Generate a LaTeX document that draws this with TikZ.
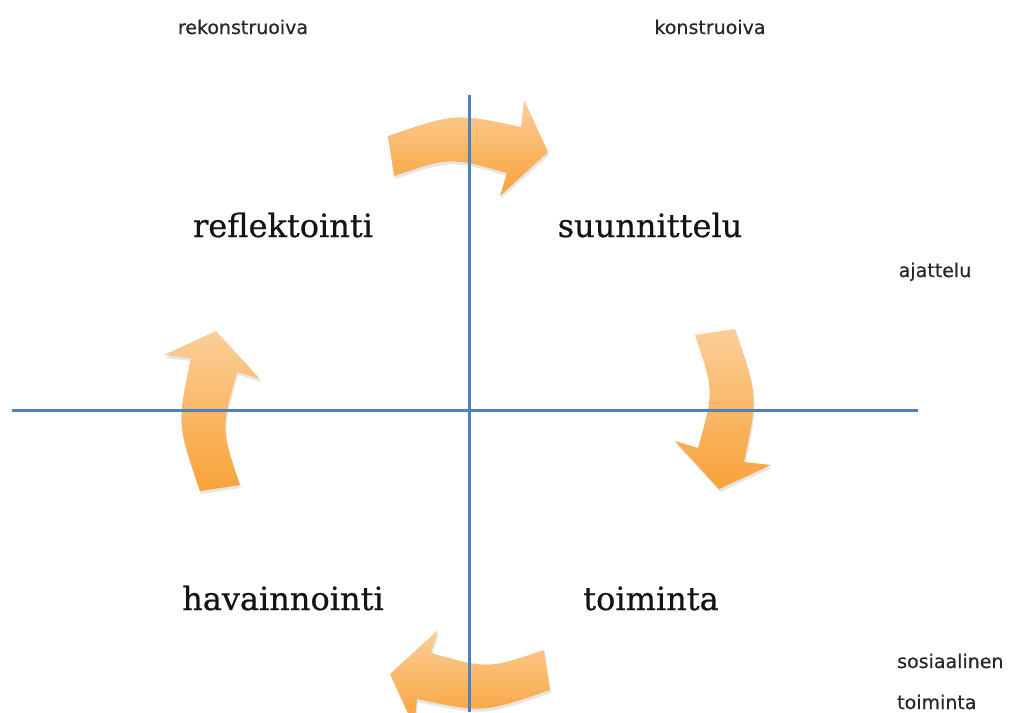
\documentclass[tikz,border=0pt]{standalone}
\usepackage{fontspec}
\setmainfont{DejaVu Serif}[FakeBold=0.6]
\newfontfamily\smallsans{DejaVu Sans}[FakeBold=0.5]
\definecolor{axisblue}{RGB}{79,129,189}
\definecolor{arrowlight}{RGB}{252,206,152}
\definecolor{arrowdark}{RGB}{248,162,56}
\definecolor{phasetext}{RGB}{20,20,20}
\definecolor{sidetext}{RGB}{40,40,40}

\tikzset{
  phase/.style={anchor=base, text=phasetext, font=\fontsize{32}{32}\selectfont, inner sep=0pt},
  side/.style={anchor=base, text=sidetext, font=\smallsans\fontsize{19}{19}\selectfont, inner sep=0pt},
  axis/.style={draw=axisblue, line width=3pt},
  % curved block arrow of the cycle, drawn relative to the crossing point;
  % the argument is the offset of its soft shadow
  pics/cyclearrow/.style={code={
    \fill[black, opacity=0.10, shift={#1}]
      (-81,-274) .. controls (-14,-297) .. (52,-283) -- (55,-310) -- (79,-258)
      -- (31,-214) -- (38,-237) .. controls (-19,-253) .. (-75,-234) -- cycle;
    \shade[top color=arrowlight, bottom color=arrowdark]
      (-81,-274) .. controls (-14,-297) .. (52,-283) -- (55,-310) -- (79,-258)
      -- (31,-214) -- (38,-237) .. controls (-19,-253) .. (-75,-234) -- cycle;
  }}
}

\begin{document}
\begin{tikzpicture}[x=1pt,y=-1pt]
\useasboundingbox[fill=white] (0,0) rectangle (1027,712);

\coordinate (c) at (469,410);

% the four arrows of the cycle
\pic at (c) {cyclearrow={(1pt,-3pt)}};
\pic[rotate=-90] at ([xshift=-8]c) {cyclearrow={(3pt,1pt)}};
\pic[rotate=180] at ([yshift=-6]c) {cyclearrow={(-1pt,3pt)}};
\pic[rotate=90] at ([xshift=5]c) {cyclearrow={(-3pt,-1pt)}};

% axes
\coordinate (vtop) at (469,95);
\coordinate (vbot) at (469,712);
\coordinate (hleft) at (12,410);
\coordinate (hright) at (918,410);
\draw[axis] (vtop) -- (vbot);
\draw[axis] (hleft) -- (hright);

% phases
\node[phase] (refl) at (283,237) {reflektointi};
\node[phase] (plan) at (650,237) {suunnittelu};
\node[phase] (obs)  at (283,610) {havainnointi};
\node[phase] (act)  at (651,610) {toiminta};

% dimensions
\node[side] (rek)  at (243,34)  {rekonstruoiva};
\node[side] (kon)  at (710,34)  {konstruoiva};
\node[side] (ajat) at (935,277) {ajattelu};
\node[side, anchor=base west] (sos) at (897,668) {sosiaalinen};
\node[side, anchor=base west] (toi) at (897,709) {toiminta};
\end{tikzpicture}
\end{document}
